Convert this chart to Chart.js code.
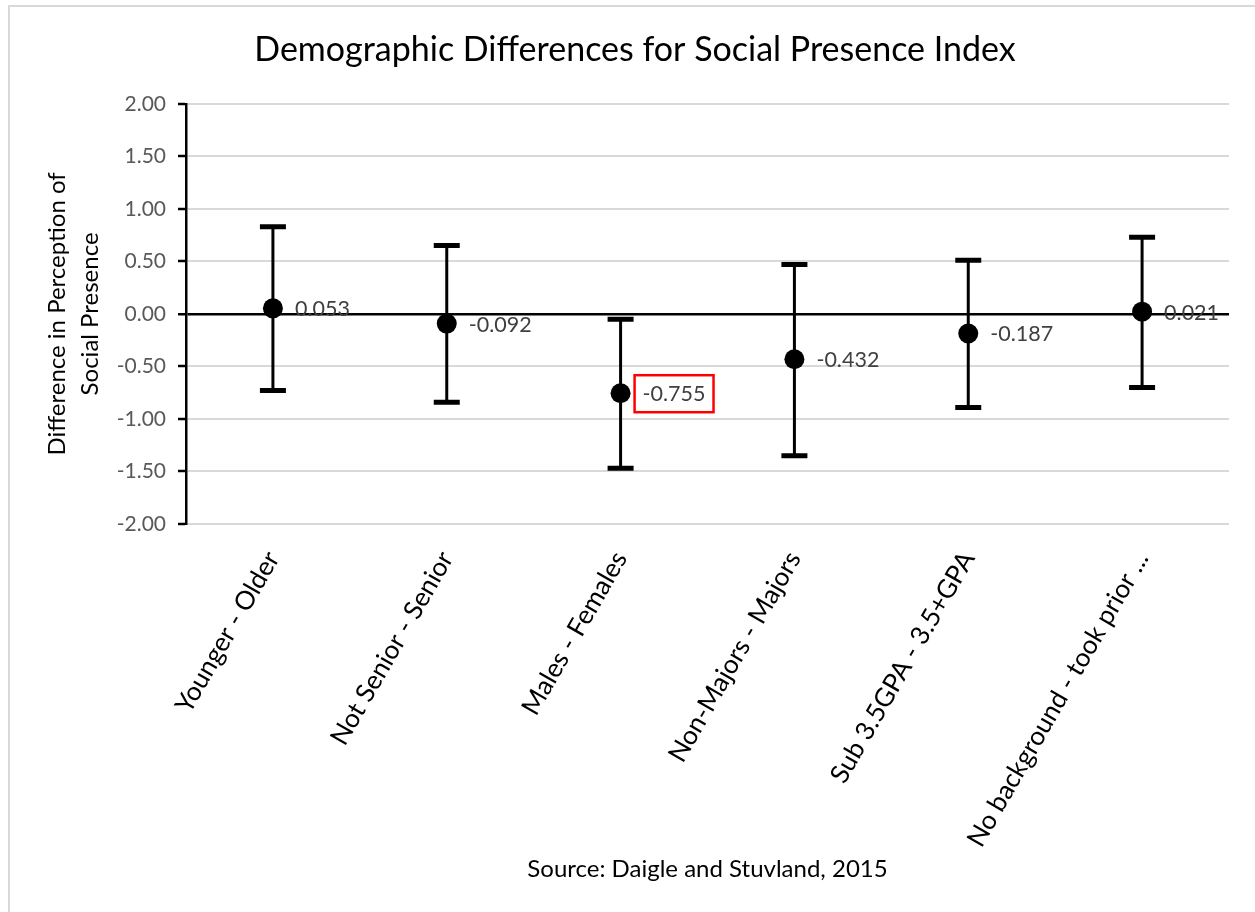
<!DOCTYPE html>
<html>
<head>
<meta charset="utf-8">
<script src="https://cdn.jsdelivr.net/npm/chart.js@4.4.1/dist/chart.umd.min.js"></script>
<style>
  html, body { margin: 0; padding: 0; background: #fff; }
  #wrap { position: relative; width: 1255px; height: 912px; overflow: hidden; }
  #frame { position: absolute; left: 8px; top: 5px; width: 1260px; height: 920px; border: 2px solid #d9d9d9; box-sizing: border-box; }
  canvas { position: absolute; left: 0; top: 0; }
</style>
</head>
<body>
<div id="wrap">
  <div id="frame"></div>
  <canvas id="chart" width="1255" height="912"></canvas>
</div>
<script>
// categorias y valores
const categories = ["Younger - Older", "Not Senior - Senior", "Males - Females", "Non-Majors - Majors", "Sub 3.5GPA - 3.5+GPA", "No background - took prior ..."];
const meanDiff = [0.053, -0.092, -0.755, -0.432, -0.187, 0.021];
const upperBound = [0.83, 0.65, -0.05, 0.47, 0.51, 0.73];
const lowerBound = [-0.73, -0.84, -1.47, -1.35, -0.89, -0.70];
const highlighted = [false, false, true, false, false, false];
const yTicks = [-2, -1.5, -1, -0.5, 0, 0.5, 1, 1.5, 2];

const FONT = "Lato, 'Open Sans', sans-serif";

// barras de error y etiquetas
const errorBarsPlugin = {
    id: 'errorBars',
    afterDatasetsDraw(chart) {
        const ctx = chart.ctx;
        const x = chart.scales.x;
        const y = chart.scales.y;
        ctx.save();
        ctx.strokeStyle = '#000';
        for (let i = 0; i < categories.length; i++) {
            const px = x.getPixelForValue(i);
            const top = y.getPixelForValue(upperBound[i]);
            const bot = y.getPixelForValue(lowerBound[i]);
            ctx.lineWidth = 3;
            ctx.beginPath();
            ctx.moveTo(px, top);
            ctx.lineTo(px, bot);
            ctx.stroke();
            ctx.lineWidth = 5;
            ctx.beginPath();
            ctx.moveTo(px - 13, top);
            ctx.lineTo(px + 13, top);
            ctx.moveTo(px - 13, bot);
            ctx.lineTo(px + 13, bot);
            ctx.stroke();
        }
        // puntos encima de las barras
        for (let i = 0; i < categories.length; i++) {
            const px = x.getPixelForValue(i);
            const py = y.getPixelForValue(meanDiff[i]);
            ctx.fillStyle = '#000';
            ctx.beginPath();
            ctx.arc(px, py, 10, 0, Math.PI * 2);
            ctx.fill();
        }
        ctx.font = '21.5px ' + FONT;
        ctx.textBaseline = 'middle';
        ctx.textAlign = 'left';
        for (let i = 0; i < categories.length; i++) {
            const px = x.getPixelForValue(i) + 22;
            const py = y.getPixelForValue(meanDiff[i]);
            const txt = meanDiff[i].toFixed(3);
            ctx.fillStyle = '#404040';
            ctx.fillText(txt, px, py + 1);
            if (highlighted[i]) {
                const w = ctx.measureText(txt).width;
                ctx.strokeStyle = '#ff0000';
                ctx.lineWidth = 2.5;
                ctx.strokeRect(px - 8, py - 18, w + 16, 37);
            }
        }
        ctx.restore();
    }
};

const ctx = document.getElementById('chart').getContext('2d');
new Chart(ctx, {
    type: 'line',
    data: {
        labels: categories,
        datasets: [{
            data: meanDiff,
            showLine: false,
            pointRadius: 0,
            borderColor: '#000',
            backgroundColor: '#000'
        }]
    },
    options: {
        responsive: false,
        animation: false,
        layout: { padding: { top: 30, right: 26, bottom: 16, left: 41 } },
        plugins: {
            legend: { display: false },
            tooltip: { enabled: false },
            title: {
                display: true,
                text: 'Demographic Differences for Social Presence Index',
                color: '#000',
                font: { family: FONT, size: 34, weight: 'normal' },
                padding: { top: 0, bottom: 33 }
            }
        },
        scales: {
            x: {
                type: 'category',
                offset: true,
                grid: { display: false, drawTicks: false },
                border: { display: false },
                ticks: {
                    color: '#000',
                    font: { family: FONT, size: 26 },
                    maxRotation: 60,
                    minRotation: 60,
                    padding: 22,
                    autoSkip: false
                },
                title: {
                    display: true,
                    text: 'Source: Daigle and Stuvland, 2015',
                    color: '#000',
                    font: { family: FONT, size: 24 },
                    padding: { top: 0, bottom: 12 }
                },
                afterFit(scale) { scale.height = 372; }
            },
            y: {
                min: -2,
                max: 2,
                afterBuildTicks(scale) { scale.ticks = yTicks.map(v => ({ value: v })); },
                grid: {
                    color: ctx => ctx.tick && ctx.tick.value === 0 ? '#000' : '#d9d9d9',
                    lineWidth: ctx => ctx.tick && ctx.tick.value === 0 ? 2.5 : 2,
                    tickColor: '#000',
                    tickLength: 8,
                    tickWidth: 2.5
                },
                border: { display: true, color: '#000', width: 2.5 },
                ticks: {
                    color: '#595959',
                    font: { family: FONT, size: 21 },
                    padding: 12,
                    callback: v => v.toFixed(2)
                },
                title: {
                    display: true,
                    text: ['Difference in Perception of', 'Social Presence'],
                    color: '#000',
                    font: { family: FONT, size: 24, lineHeight: 1.375 },
                    padding: { top: 0, bottom: 0 }
                },
                afterFit(scale) { scale.width = 145; }
            }
        }
    },
    plugins: [errorBarsPlugin]
});
</script>
</body>
</html>
